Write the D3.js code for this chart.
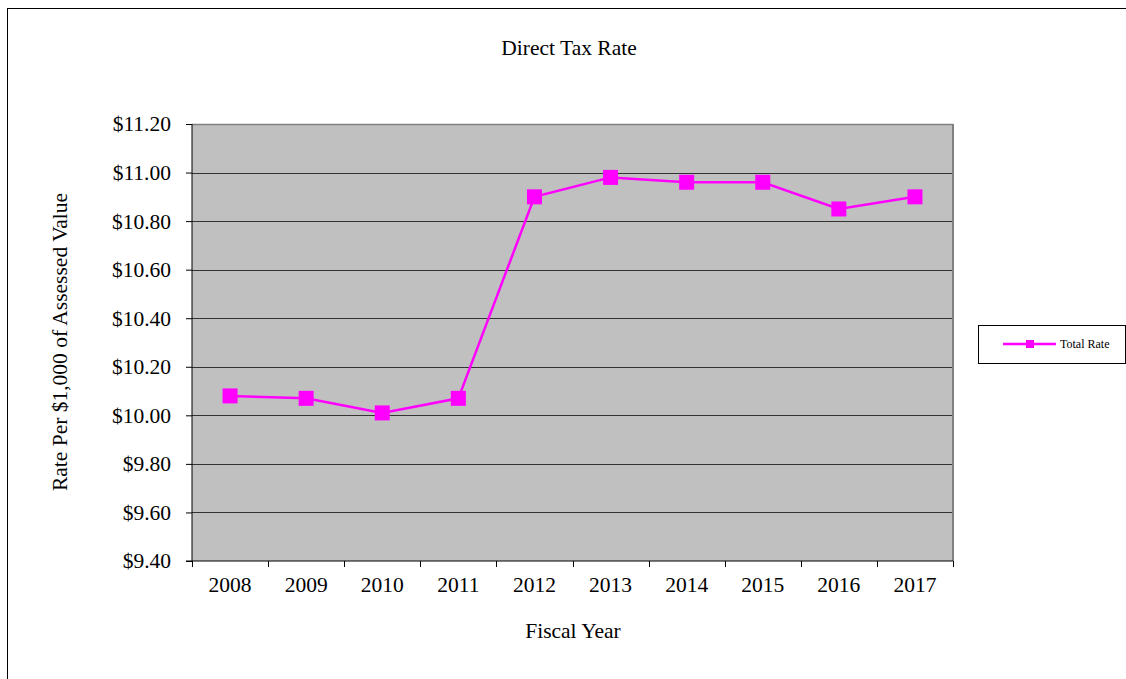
<!DOCTYPE html>
<html>
<head>
<meta charset="utf-8">
<script src="https://cdn.jsdelivr.net/npm/d3@7"></script>
<style>
  body { margin: 0; background: #fff; }
  svg text { font-family: 'Liberation Serif', 'Times New Roman', serif; fill: #000; }
</style>
</head>
<body>
<div id="chart"></div>
<script>
const years = ['2008', '2009', '2010', '2011', '2012', '2013', '2014', '2015', '2016', '2017'];
const totalRate = [10.08, 10.07, 10.01, 10.07, 10.90, 10.98, 10.96, 10.96, 10.85, 10.90];
const yTicks = [9.4, 9.6, 9.8, 10.0, 10.2, 10.4, 10.6, 10.8, 11.0, 11.2];

const width  = 1126;
const height = 679;
const plot   = { left : 192, right : 953, top : 124, bottom : 561 };
const fontSize = '21.5px';

const svg = d3.select( '#chart' )
              .append( 'svg' )
              .attr( 'width', width )
              .attr( 'height', height );

// outer chart frame
svg.append( 'rect' )
   .attr( 'x', 7.5 ).attr( 'y', 8.5 )
   .attr( 'width', 1130 ).attr( 'height', 700 )
   .attr( 'fill', 'none' )
   .attr( 'stroke', '#000' );

const x = d3.scaleBand()
            .domain( years )
            .range( [plot.left, plot.right] );

const y = d3.scaleLinear()
            .domain( [9.4, 11.2] )
            .range( [plot.bottom, plot.top] );

// plot area
svg.append( 'rect' )
   .attr( 'x', plot.left ).attr( 'y', plot.top )
   .attr( 'width', plot.right - plot.left )
   .attr( 'height', plot.bottom - plot.top )
   .attr( 'fill', '#c0c0c0' );

// gridlines
svg.append( 'g' )
   .selectAll( 'line' )
   .data( yTicks.slice( 1, -1 ) )
   .enter()
   .append( 'line' )
   .attr( 'x1', plot.left ).attr( 'x2', plot.right )
   .attr( 'y1', d => Math.round( y( d ) ) + 0.5 )
   .attr( 'y2', d => Math.round( y( d ) ) + 0.5 )
   .attr( 'stroke', '#333' )
   .attr( 'stroke-width', 1 );

// plot border
svg.append( 'line' )
   .attr( 'x1', plot.left ).attr( 'x2', plot.right )
   .attr( 'y1', plot.top + 0.5 ).attr( 'y2', plot.top + 0.5 )
   .attr( 'stroke', '#808080' ).attr( 'stroke-width', 1.5 );
svg.append( 'line' )
   .attr( 'x1', plot.right ).attr( 'x2', plot.right )
   .attr( 'y1', plot.top ).attr( 'y2', plot.bottom )
   .attr( 'stroke', '#808080' ).attr( 'stroke-width', 2 );

// y axis
const yAxis = svg.append( 'g' )
                 .attr( 'transform', `translate(${plot.left},0)` )
                 .call( d3.axisLeft( y ).tickValues( yTicks ).tickSize( 6 ).tickPadding( 15 )
                          .tickFormat( d => '$' + d3.format( '.2f' )( d ) ) );
yAxis.selectAll( 'text' ).attr( 'font-size', fontSize );
yAxis.select( '.domain' ).attr( 'stroke', '#000' ).attr( 'd', `M0,${plot.top}V${plot.bottom}` );

// x axis
const xAxis = svg.append( 'g' )
                 .attr( 'transform', `translate(0,${plot.bottom})` )
                 .call( d3.axisBottom( x ).tickSize( 0 ).tickPadding( 16 ) );
xAxis.selectAll( 'text' ).attr( 'font-size', fontSize );
xAxis.select( '.domain' ).attr( 'stroke', '#000' ).attr( 'd', `M${plot.left - 6},0H${plot.right}` );
xAxis.selectAll( '.edge' )
     .data( years.concat( ['end'] ) )
     .enter()
     .append( 'line' )
     .attr( 'x1', ( d, i ) => Math.round( plot.left + i * x.step() ) + 0.5 )
     .attr( 'x2', ( d, i ) => Math.round( plot.left + i * x.step() ) + 0.5 )
     .attr( 'y1', 0 ).attr( 'y2', 6 )
     .attr( 'stroke', '#000' );

// series line
const line = d3.line()
               .x( ( d, i ) => x( years[i] ) + x.bandwidth() / 2 )
               .y( d => y( d ) );

svg.append( 'path' )
   .datum( totalRate )
   .attr( 'd', line )
   .attr( 'fill', 'none' )
   .attr( 'stroke', '#ff00ff' )
   .attr( 'stroke-width', 2.5 );

svg.append( 'g' )
   .selectAll( 'rect' )
   .data( totalRate )
   .enter()
   .append( 'rect' )
   .attr( 'x', ( d, i ) => x( years[i] ) + x.bandwidth() / 2 - 7.5 )
   .attr( 'y', d => y( d ) - 7.5 )
   .attr( 'width', 15 ).attr( 'height', 15 )
   .attr( 'fill', '#ff00ff' );

// title and axis labels
svg.append( 'text' )
   .attr( 'x', 569 ).attr( 'y', 55 )
   .attr( 'text-anchor', 'middle' )
   .attr( 'font-size', fontSize )
   .text( 'Direct Tax Rate' );

svg.append( 'text' )
   .attr( 'x', 573 ).attr( 'y', 638 )
   .attr( 'text-anchor', 'middle' )
   .attr( 'font-size', fontSize )
   .text( 'Fiscal Year' );

svg.append( 'text' )
   .attr( 'transform', 'translate(67,342) rotate(-90)' )
   .attr( 'text-anchor', 'middle' )
   .attr( 'font-size', fontSize )
   .text( 'Rate Per $1,000 of Assessed Value' );

// legend
const legend = svg.append( 'g' );
legend.append( 'rect' )
      .attr( 'x', 978.5 ).attr( 'y', 325.5 )
      .attr( 'width', 147 ).attr( 'height', 38 )
      .attr( 'fill', '#fff' )
      .attr( 'stroke', '#000' );
legend.append( 'line' )
      .attr( 'x1', 1003 ).attr( 'x2', 1056 )
      .attr( 'y1', 344 ).attr( 'y2', 344 )
      .attr( 'stroke', '#ff00ff' ).attr( 'stroke-width', 2.5 );
legend.append( 'rect' )
      .attr( 'x', 1026 ).attr( 'y', 340 )
      .attr( 'width', 8 ).attr( 'height', 8 )
      .attr( 'fill', '#ff00ff' );
legend.append( 'text' )
      .attr( 'x', 1060 ).attr( 'y', 348 )
      .attr( 'font-size', '12px' )
      .text( 'Total Rate' );
</script>
</body>
</html>
